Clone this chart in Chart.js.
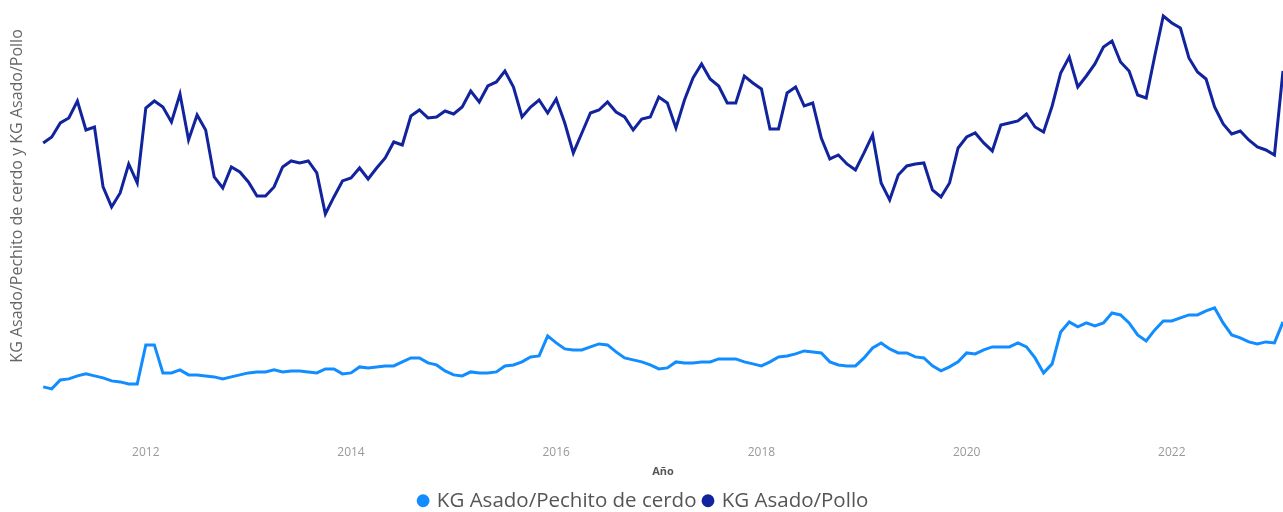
<!DOCTYPE html>
<html lang="es">
<head>
    <meta charset="UTF-8">
    <title>KG Asado/Pechito de cerdo y KG Asado/Pollo</title>
    <script src="https://cdn.jsdelivr.net/npm/chart.js"></script>
    <style>
        body { margin: 0; background: #fff; }
        #wrap { position: relative; width: 1283px; height: 512px; }
    </style>
</head>
<body>
    <div id="wrap"><canvas id="ratioChart"></canvas></div>

    <script>
        // Monthly series, Jan 2011 .. Feb 2023
        const startYear = 2011;
        const yearTicks = ['2012', '2014', '2016', '2018', '2020', '2022'];

        const pechitoRatio = [
            1.13, 1.11, 1.20, 1.21, 1.24, 1.26, 1.24, 1.22, 1.19, 1.18, 1.16, 1.16,
            1.55, 1.55, 1.27, 1.27, 1.30, 1.25, 1.25, 1.24, 1.23, 1.21, 1.23, 1.25,
            1.27, 1.28, 1.28, 1.30, 1.28, 1.29, 1.29, 1.28, 1.27, 1.31, 1.31, 1.26,
            1.27, 1.33, 1.32, 1.33, 1.34, 1.34, 1.38, 1.42, 1.42, 1.37, 1.35, 1.29,
            1.25, 1.24, 1.28, 1.27, 1.27, 1.28, 1.34, 1.35, 1.38, 1.43, 1.44, 1.64,
            1.57, 1.51, 1.50, 1.50, 1.53, 1.56, 1.55, 1.48, 1.42, 1.40, 1.38, 1.35,
            1.31, 1.32, 1.38, 1.37, 1.37, 1.38, 1.38, 1.41, 1.41, 1.41, 1.38, 1.36,
            1.34, 1.38, 1.43, 1.44, 1.46, 1.49, 1.48, 1.47, 1.38, 1.35, 1.34, 1.34,
            1.42, 1.52, 1.57, 1.51, 1.47, 1.47, 1.43, 1.42, 1.34, 1.29, 1.33, 1.38,
            1.47, 1.46, 1.50, 1.53, 1.53, 1.53, 1.57, 1.53, 1.42, 1.27, 1.36, 1.68,
            1.78, 1.73, 1.77, 1.74, 1.77, 1.87, 1.85, 1.77, 1.65, 1.59, 1.70, 1.79,
            1.79, 1.82, 1.85, 1.85, 1.89, 1.92, 1.77, 1.65, 1.62, 1.58, 1.56, 1.58,
            1.57, 1.78
        ];

        const polloRatio = [
            3.57, 3.63, 3.77, 3.82, 3.99, 3.70, 3.73, 3.13, 2.93, 3.07, 3.36, 3.17,
            3.92, 3.99, 3.93, 3.78, 4.06, 3.60, 3.85, 3.70, 3.23, 3.12, 3.33, 3.28,
            3.18, 3.04, 3.04, 3.13, 3.33, 3.39, 3.37, 3.39, 3.27, 2.86, 3.03, 3.19,
            3.22, 3.32, 3.21, 3.32, 3.42, 3.58, 3.55, 3.84, 3.90, 3.82, 3.83, 3.89,
            3.86, 3.93, 4.09, 3.98, 4.14, 4.18, 4.29, 4.13, 3.83, 3.93, 4.00, 3.87,
            4.01, 3.77, 3.47, 3.67, 3.87, 3.90, 3.98, 3.88, 3.83, 3.70, 3.81, 3.83,
            4.03, 3.97, 3.72, 4.00, 4.22, 4.36, 4.21, 4.14, 3.97, 3.97, 4.24, 4.17,
            4.11, 3.71, 3.71, 4.07, 4.13, 3.94, 3.97, 3.62, 3.41, 3.45, 3.36, 3.30,
            3.47, 3.65, 3.17, 3.00, 3.25, 3.34, 3.36, 3.37, 3.10, 3.03, 3.17, 3.52,
            3.63, 3.67, 3.57, 3.49, 3.75, 3.77, 3.79, 3.86, 3.73, 3.68, 3.94, 4.27,
            4.43, 4.13, 4.24, 4.36, 4.53, 4.59, 4.38, 4.29, 4.05, 4.02, 4.44, 4.84,
            4.77, 4.72, 4.42, 4.28, 4.21, 3.93, 3.76, 3.66, 3.69, 3.60, 3.53, 3.50,
            3.45, 4.29
        ];

        // one label per month: "YYYY-MM"
        const months = [];
        for (let i = 0; i < polloRatio.length; i++) {
            const y = startYear + Math.floor(i / 12);
            const m = (i % 12) + 1;
            months.push(y + '-' + String(m).padStart(2, '0'));
        }

        const uiFont = "'Segoe UI', 'Open Sans', 'Noto Sans', sans-serif";

        new Chart(document.getElementById('ratioChart'), {
            type: 'line',
            data: {
                labels: months,
                datasets: [{
                    label: 'KG Asado/Pechito de cerdo',
                    data: pechitoRatio,
                    borderColor: '#118DFF',
                    backgroundColor: '#118DFF',
                    borderWidth: 3,
                    pointRadius: 0,
                    tension: 0,
                    fill: false
                }, {
                    label: 'KG Asado/Pollo',
                    data: polloRatio,
                    borderColor: '#12239E',
                    backgroundColor: '#12239E',
                    borderWidth: 3,
                    pointRadius: 0,
                    tension: 0,
                    fill: false
                }]
            },
            options: {
                responsive: true,
                maintainAspectRatio: false,
                animation: false,
                // legend sits partly below the bottom edge, like the screenshot
                layout: { padding: { left: 5, right: 0, top: 0, bottom: -9 } },
                plugins: {
                    tooltip: { enabled: false },
                    legend: {
                        position: 'bottom',
                        labels: {
                            usePointStyle: true,
                            pointStyle: 'circle',
                            boxWidth: 7,
                            boxHeight: 7,
                            padding: 8,
                            color: '#555',
                            font: { family: uiFont, size: 20.5 }
                        }
                    }
                },
                scales: {
                    x: {
                        grid: { display: false, drawTicks: false },
                        border: { display: false },
                        ticks: {
                            autoSkip: false,
                            maxRotation: 0,
                            padding: 53,
                            color: '#999',
                            font: { family: uiFont, size: 12 },
                            callback: function (value) {
                                const lab = this.getLabelForValue(value);
                                const yr = lab.slice(0, 4);
                                return (lab.endsWith('-01') && yearTicks.includes(yr)) ? yr : null;
                            }
                        },
                        title: {
                            display: true,
                            text: 'Año',
                            color: '#555',
                            // tick padding is counted twice in the axis height, pull the title back up
                            padding: { top: -47, bottom: 4 },
                            font: { family: uiFont, size: 11, weight: 'bold' }
                        }
                    },
                    y: {
                        min: 1.08,
                        max: 5.0,
                        grid: { display: false, drawTicks: false },
                        border: { display: false },
                        ticks: { display: false },
                        title: {
                            display: true,
                            text: 'KG Asado/Pechito de cerdo y KG Asado/Pollo',
                            color: '#666',
                            padding: { top: 3, bottom: 16 },
                            font: { family: uiFont, size: 16 }
                        }
                    }
                }
            }
        });
    </script>
</body>
</html>
